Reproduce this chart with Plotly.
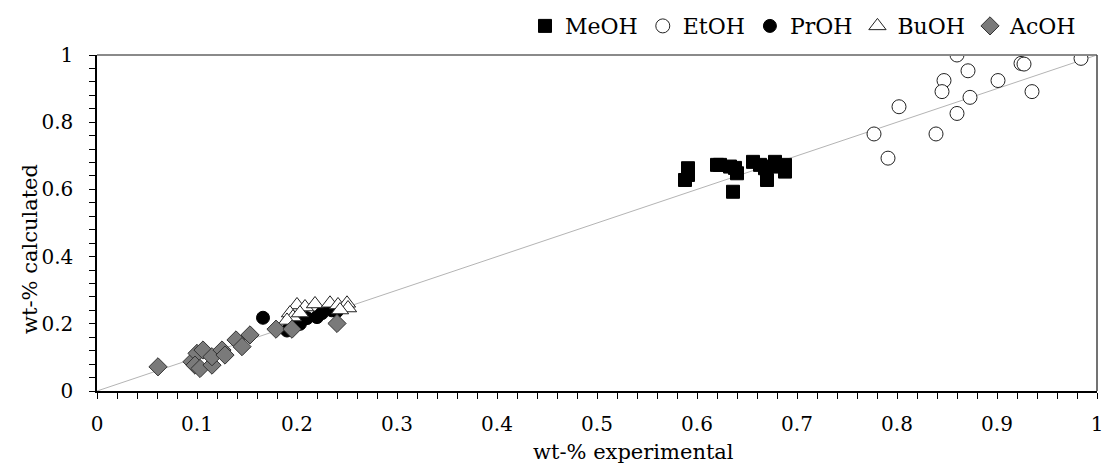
import plotly.graph_objects as go

# ---- data ----
meoh_x = [0.591, 0.588, 0.591, 0.620, 0.623, 0.633, 0.640, 0.636, 0.656, 0.668, 0.670, 0.678, 0.688, 0.688, 0.675, 0.663, 0.638]
meoh_y = [0.663, 0.628, 0.643, 0.673, 0.673, 0.668, 0.648, 0.593, 0.682, 0.663, 0.628, 0.682, 0.673, 0.653, 0.668, 0.673, 0.664]

etoh_x = [0.860, 0.984, 0.924, 0.927, 0.871, 0.847, 0.901, 0.845, 0.935, 0.873, 0.802, 0.860, 0.777, 0.839, 0.791]
etoh_y = [1.000, 0.990, 0.975, 0.973, 0.953, 0.924, 0.924, 0.891, 0.891, 0.874, 0.846, 0.826, 0.765, 0.765, 0.693]

proh_x = [0.166, 0.190, 0.195, 0.203, 0.210, 0.220, 0.225, 0.235, 0.240]
proh_y = [0.218, 0.180, 0.190, 0.200, 0.217, 0.220, 0.232, 0.240, 0.238]

buoh_x = [0.200, 0.208, 0.218, 0.233, 0.241, 0.250, 0.251, 0.193, 0.196, 0.190, 0.203, 0.243]
buoh_y = [0.256, 0.250, 0.259, 0.261, 0.256, 0.261, 0.247, 0.232, 0.220, 0.210, 0.232, 0.241]

acoh_x = [0.061, 0.095, 0.100, 0.106, 0.098, 0.103, 0.115, 0.115, 0.125, 0.128, 0.139, 0.145, 0.153, 0.179, 0.195, 0.240]
acoh_y = [0.072, 0.087, 0.112, 0.122, 0.077, 0.067, 0.077, 0.102, 0.122, 0.107, 0.152, 0.132, 0.167, 0.184, 0.184, 0.201]

parity = [0, 1]

x_ticks = [0, 0.1, 0.2, 0.3, 0.4, 0.5, 0.6, 0.7, 0.8, 0.9, 1]
x_ticklabels = ["0", "0.1", "0.2", "0.3", "0.4", "0.5", "0.6", "0.7", "0.8", "0.9", "1"]
y_ticks = [0, 0.2, 0.4, 0.6, 0.8, 1]
y_ticklabels = ["0", "0.2", "0.4", "0.6", "0.8", "1"]

x_title = "wt-% experimental"
y_title = "wt-% calculated"

FONT = "DejaVu Serif"

fig = go.Figure()
fig.add_trace(go.Scatter(x=parity, y=parity, mode="lines",
                         line=dict(color="#b4b4b4", width=1), showlegend=False, hoverinfo="skip"))

fig.add_trace(go.Scatter(x=meoh_x, y=meoh_y, mode="markers", name="MeOH",
                         marker=dict(symbol="square", size=13, color="black",
                                     line=dict(color="black", width=1))))
fig.add_trace(go.Scatter(x=etoh_x, y=etoh_y, mode="markers", name="EtOH",
                         marker=dict(symbol="circle", size=14, color="white",
                                     line=dict(color="#222222", width=1))))
fig.add_trace(go.Scatter(x=proh_x, y=proh_y, mode="markers", name="PrOH",
                         marker=dict(symbol="circle", size=13, color="black",
                                     line=dict(color="black", width=1))))
fig.add_trace(go.Scatter(x=buoh_x, y=buoh_y, mode="markers", name="BuOH",
                         marker=dict(symbol="triangle-up", size=15, color="white",
                                     line=dict(color="#222222", width=1))))
fig.add_trace(go.Scatter(x=acoh_x, y=acoh_y, mode="markers", name="AcOH",
                         marker=dict(symbol="diamond", size=14, color="#7a7a7a",
                                     line=dict(color="#333333", width=1))))

fig.update_layout(
    width=1102, height=463,
    margin=dict(l=97, r=5, t=55, b=72, autoexpand=False),
    paper_bgcolor="white", plot_bgcolor="white",
    font=dict(family=FONT, size=20, color="black"),
    legend=dict(orientation="h", x=0.985, xanchor="right", y=1.086, yanchor="middle",
                font=dict(family=FONT, size=22), itemwidth=30, tracegroupgap=0,
                bgcolor="rgba(0,0,0,0)"),
    xaxis=dict(range=[0, 1], tickvals=x_ticks, ticktext=x_ticklabels, automargin=False,
               showgrid=False, zeroline=False, showline=True, linecolor="black", linewidth=1.5,
               ticks="outside", ticklen=6, tickcolor="black", ticklabelstandoff=8,
               ticklabeloverflow="allow",
               minor=dict(dtick=0.02, ticks="outside", ticklen=6, tickcolor="black")),
    yaxis=dict(range=[0, 1], tickvals=y_ticks, ticktext=y_ticklabels, automargin=False,
               showgrid=False, zeroline=False, showline=True, linecolor="black", linewidth=1.5,
               ticks="outside", ticklen=6, tickcolor="black", ticklabelstandoff=12,
               ticklabeloverflow="allow",
               minor=dict(dtick=0.04, ticks="outside", ticklen=6, tickcolor="black")),
    shapes=[
        dict(type="line", xref="paper", yref="paper", x0=0, x1=1, y0=1, y1=1,
             line=dict(color="#8a8a8a", width=2)),
        dict(type="line", xref="paper", yref="paper", x0=1, x1=1, y0=0, y1=1,
             line=dict(color="#444444", width=1.5)),
    ],
    annotations=[
        dict(text=x_title, xref="paper", yref="paper", x=0.536, y=-0.1815,
             xanchor="center", yanchor="middle", showarrow=False,
             font=dict(family=FONT, size=21)),
        dict(text=y_title, xref="paper", yref="paper", x=-0.067, y=0.4226,
             xanchor="center", yanchor="middle", showarrow=False, textangle=-90,
             font=dict(family=FONT, size=21)),
    ],
)

fig.write_html("out.html", config={"displayModeBar": False},
               post_script="document.body.style.margin='0';document.body.style.overflow='hidden';")
